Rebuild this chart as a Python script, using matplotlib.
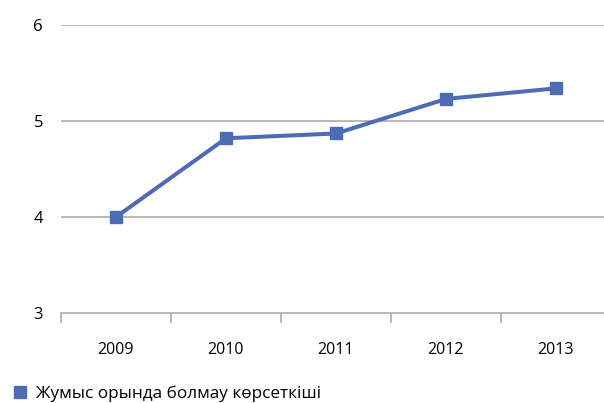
import matplotlib
matplotlib.use("Agg")
import matplotlib.pyplot as plt
from matplotlib.lines import Line2D

plt.rcParams['font.family'] = ['Open Sans', 'DejaVu Sans']

years = ['2009', '2010', '2011', '2012', '2013']
values = [4.0, 4.82, 4.87, 5.23, 5.34]
series_name = 'Жумыс орында болмау көрсеткіші'
yticks = [3, 4, 5, 6]

color = '#4E6BB5'
grid = '#A6A6A6'

fig = plt.figure(figsize=(6.04, 4.03), dpi=100)
W, H = 604, 403
left, right, top, bottom = 61, 611, 25, 313
ax = fig.add_axes([left / W, (H - bottom) / H, (right - left) / W, (bottom - top) / H])

x = list(range(len(years)))
ax.plot(x, values, color=color, lw=2.9, marker='s', markersize=8.6,
        markerfacecolor=color, markeredgecolor=color, solid_joinstyle='round')

ax.set_xlim(-0.5, len(years) - 0.5)
ax.set_ylim(3, 6)
ax.set_yticks(yticks)
ax.set_yticklabels([str(t) for t in yticks])
for t in yticks[1:]:
    ax.axhline(t, color=grid, lw=1.1, zorder=0)

ax.set_xticks(x)
ax.set_xticklabels(years)
ax.set_xticks([i - 0.5 for i in range(len(years) + 1)], minor=True)

for s in ['top', 'right', 'left']:
    ax.spines[s].set_visible(False)
ax.spines['bottom'].set_color(grid)
ax.spines['bottom'].set_linewidth(1.1)

ax.tick_params(axis='y', length=0, pad=13, labelsize=12, colors='black')
ax.tick_params(axis='x', which='major', length=0, pad=21, labelsize=11.5)
ax.tick_params(axis='x', which='minor', length=7, width=1.1, color=grid, direction='out')

handle = Line2D([], [], color=color, marker='s', linestyle='None', markersize=8.6)
leg = fig.legend([handle], [series_name], loc='center left', frameon=False,
                 fontsize=12.3, handlelength=1.0, handletextpad=0.45, borderpad=0.0,
                 borderaxespad=0.0)
leg.set_bbox_to_anchor((11 / W, (H - 394) / H), transform=fig.transFigure)

fig.savefig('out.png', dpi=100)
